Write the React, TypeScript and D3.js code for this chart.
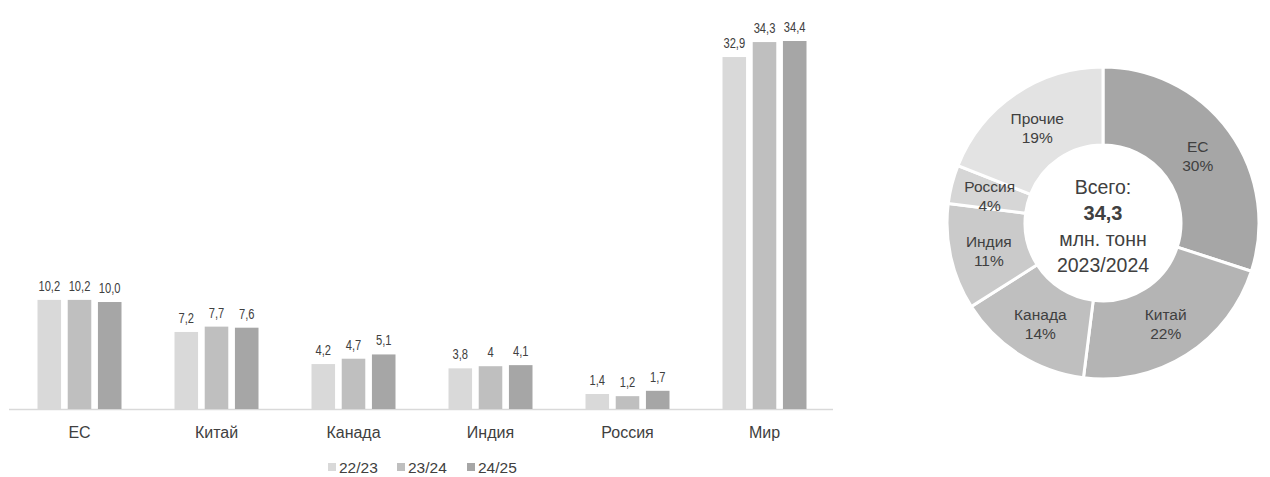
import React from "react";
import * as d3 from "d3";

const categories = ["ЕС", "Китай", "Канада", "Индия", "Россия", "Мир"];
const seriesNames = ["22/23", "23/24", "24/25"];
const values2223 = [10.2, 7.2, 4.2, 3.8, 1.4, 32.9];
const values2324 = [10.2, 7.7, 4.7, 4.0, 1.2, 34.3];
const values2425 = [10.0, 7.6, 5.1, 4.1, 1.7, 34.4];
const labels2223 = ["10,2", "7,2", "4,2", "3,8", "1,4", "32,9"];
const labels2324 = ["10,2", "7,7", "4,7", "4", "1,2", "34,3"];
const labels2425 = ["10,0", "7,6", "5,1", "4,1", "1,7", "34,4"];
const seriesColors = ["#d9d9d9", "#bfbfbf", "#a6a6a6"];

const pieLabels = ["ЕС", "Китай", "Канада", "Индия", "Россия", "Прочие"];
const pieShares = [30, 22, 14, 11, 4, 19];
const pieColors = ["#a6a6a6", "#b4b4b4", "#bfbfbf", "#cacaca", "#d6d6d6", "#e3e3e3"];
const centerLines = ["Всего:", "34,3", "млн. тонн", "2023/2024"];

const textColor = "#404040";

export default function App() {
  const seriesValues = [values2223, values2324, values2425];
  const seriesLabels = [labels2223, labels2324, labels2425];

  const x0 = d3.scaleBand<string>().domain(categories).range([11, 833]);
  const x1 = d3.scaleBand<string>().domain(seriesNames).range([-42, 42]).paddingInner(0.22);
  const y = d3.scaleLinear().domain([0, 34.4]).range([409, 41]);

  const cx = 1103;
  const cy = 223;
  const outerR = 156;
  const innerR = 78;
  const pie = d3.pie<number>().sort(null).value((d) => d);
  const arcs = pie(pieShares);
  const arcGen = d3.arc<d3.PieArcDatum<number>>().innerRadius(innerR).outerRadius(outerR);
  const labelArc = d3.arc<d3.PieArcDatum<number>>().innerRadius(117).outerRadius(117);

  const legendX = [328, 397, 467];

  return (
    <svg
      width={1270}
      height={477}
      style={{ position: "absolute", left: 0, top: 0, background: "#fff" }}
      fontFamily="'Liberation Sans', Arial, sans-serif"
    >
      {/* axis line */}
      <line x1={9} x2={833} y1={409.5} y2={409.5} stroke="#d9d9d9" strokeWidth={1.5} />
      {categories.map((c, i) => (
        <g key={c} transform={`translate(${x0(c)! + x0.bandwidth() / 2},0)`}>
          {seriesNames.map((s, j) => {
            const v = seriesValues[j][i];
            return (
              <g key={s}>
                <rect
                  x={x1(s)!}
                  y={y(v)}
                  width={x1.bandwidth()}
                  height={y(0) - y(v)}
                  fill={seriesColors[j]}
                />
                <text
                  transform={`translate(${x1(s)! + x1.bandwidth() / 2},${y(v) - 9}) scale(0.72,1)`}
                  textAnchor="middle"
                  fontSize={15.5}
                  fill={textColor}
                >
                  {seriesLabels[j][i]}
                </text>
              </g>
            );
          })}
          <text x={0} y={438} textAnchor="middle" fontSize={16} fill={textColor}>
            {c}
          </text>
        </g>
      ))}
      {/* legend */}
      {seriesNames.map((s, j) => (
        <g key={s}>
          <rect x={legendX[j]} y={463} width={8} height={8} fill={seriesColors[j]} />
          <text x={legendX[j] + 11} y={473} fontSize={15.5} fill={textColor}>
            {s}
          </text>
        </g>
      ))}
      {/* donut */}
      <g transform={`translate(${cx},${cy})`}>
        {arcs.map((a, i) => (
          <path key={pieLabels[i]} d={arcGen(a)!} fill={pieColors[i]} stroke="#fff" strokeWidth={3} />
        ))}
        {arcs.map((a, i) => {
          const [lx, ly] = labelArc.centroid(a);
          return (
            <text key={pieLabels[i]} x={lx} y={ly} textAnchor="middle" fontSize={15.5} fill={textColor}>
              <tspan x={lx} dy={-2}>{pieLabels[i]}</tspan>
              <tspan x={lx} dy={19}>{pieShares[i]}%</tspan>
            </text>
          );
        })}
        {centerLines.map((t, i) => (
          <text
            key={t}
            x={0}
            y={-29 + i * 26}
            textAnchor="middle"
            fontSize={i === 1 ? 20 : 19.5}
            fontWeight={i === 1 ? "bold" : "normal"}
            fill={textColor}
          >
            {t}
          </text>
        ))}
      </g>
    </svg>
  );
}
